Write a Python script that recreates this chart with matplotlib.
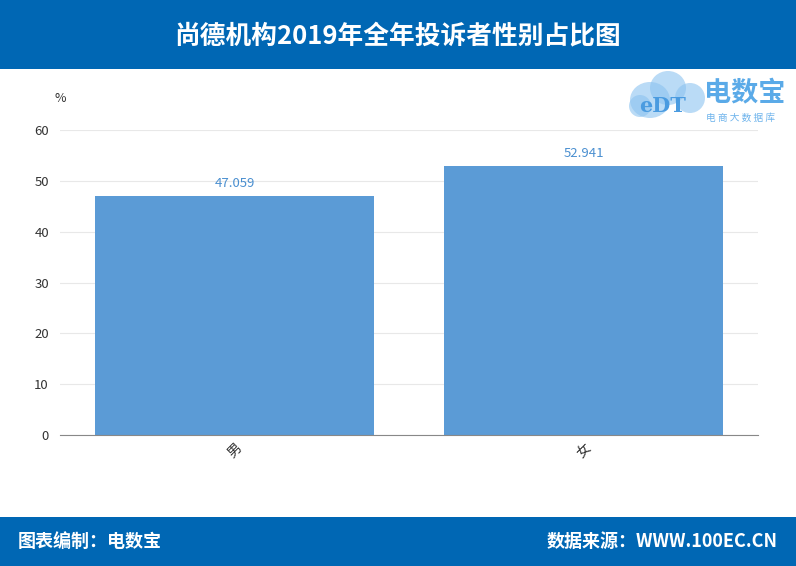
import matplotlib
matplotlib.use("Agg")
import matplotlib.pyplot as plt
from matplotlib.patches import Rectangle, Ellipse

plt.rcParams['font.family'] = ['Noto Sans CJK SC', 'DejaVu Sans']

title = "尚德机构2019年全年投诉者性别占比图"
categories = ["男", "女"]
values = [47.059, 52.941]
yticks = [0, 10, 20, 30, 40, 50, 60]
unit = "%"
footer_left = "图表编制：电数宝"
footer_right = "数据来源：WWW.100EC.CN"

W, H = 796, 566
fig = plt.figure(figsize=(W / 100, H / 100), dpi=100)
fig.patch.set_facecolor("white")

blue = "#0067B4"
# header and footer bands
fig.add_artist(Rectangle((0, 1 - 69 / H), 1, 69 / H, transform=fig.transFigure,
                         facecolor=blue, edgecolor="none", zorder=0))
fig.add_artist(Rectangle((0, 0), 1, 49 / H, transform=fig.transFigure,
                         facecolor=blue, edgecolor="none", zorder=0))
fig.text(0.5, 1 - 36 / H, title, color="white", fontsize=18.5, fontweight="bold",
         ha="center", va="center")
fig.text(18 / W, 1 - 541 / H, footer_left, color="white", fontsize=13,
         fontweight="bold", ha="left", va="center")
fig.text(778 / W, 1 - 541 / H, footer_right, color="white", fontsize=13,
         fontweight="bold", ha="right", va="center")

# logo
lc = "#8CC3F0"
for (cx, cy, w, h) in [(650, 100, 40, 36), (668, 88, 36, 34), (690, 98, 30, 30), (640, 106, 22, 22)]:
    fig.add_artist(Ellipse((cx / W, 1 - cy / H), w / W, h / H, transform=fig.transFigure,
                           facecolor=lc, edgecolor="none", alpha=0.6, zorder=1))
fig.text(663 / W, 1 - 106 / H, "eDT", color="#4A9BE0", fontsize=15, fontweight="bold",
         ha="center", va="center", family="DejaVu Serif", zorder=2)
fig.text(704 / W, 1 - 92 / H, "电数宝", color="#5AAAE8", fontsize=19.5, fontweight="bold",
         ha="left", va="center")
fig.text(706 / W, 1 - 118 / H, "电 商 大 数 据 库", color="#6FB4EC", fontsize=7,
         ha="left", va="center")

ax = fig.add_axes([60 / W, 131 / H, 698 / W, 305 / H])
x = list(range(len(categories)))
bars = ax.bar(x, values, width=0.8, color="#5B9BD6", zorder=2)
ax.set_xlim(-0.5, len(categories) - 0.5)
ax.set_ylim(0, 60)
ax.set_yticks(yticks)
ax.set_xticks(x)
ax.set_xticklabels(categories, rotation=45, fontsize=10, color="#333333")
ax.tick_params(axis="y", length=0, labelsize=9.5, labelcolor="#333333", pad=8)
ax.tick_params(axis="x", length=0, pad=4)
ax.grid(axis="y", color="#E8E8E8", linewidth=0.8, zorder=0)
for s in ["top", "right", "left"]:
    ax.spines[s].set_visible(False)
ax.spines["bottom"].set_color("#888888")
for xi, v in zip(x, values):
    ax.annotate(f"{v:.3f}", (xi, v), xytext=(0, 4), textcoords="offset points",
                ha="center", va="bottom", color="#4A8FD0", fontsize=9.5)
fig.text(60 / W, 1 - 99 / H, unit, color="#333333", fontsize=9, ha="center", va="center")

fig.savefig("out.png", dpi=100)
